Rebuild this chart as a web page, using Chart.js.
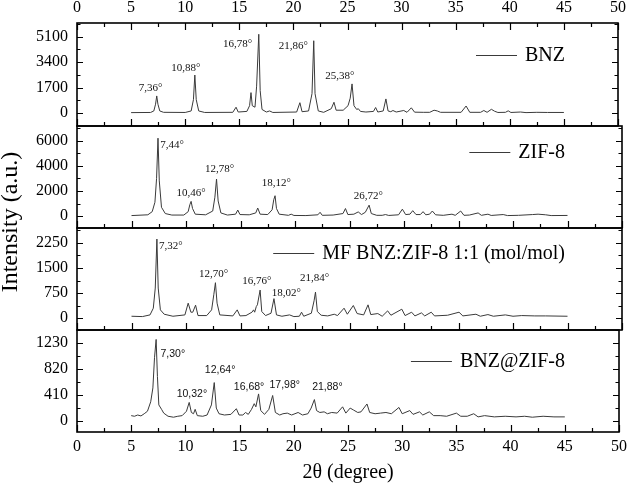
<!DOCTYPE html>
<html>
<head>
<meta charset="utf-8">
<script src="https://cdn.jsdelivr.net/npm/chart.js@4"></script>
<style>
    body { margin: 0; background: #fff; }
    #wrap { position: relative; width: 632px; height: 485px; }
    #wrap canvas { position: absolute; left: 0; top: 0; }
</style>
</head>
<body>
<div id="wrap">
    <canvas id="bnz" width="632" height="485"></canvas>
    <canvas id="zif" width="632" height="485"></canvas>
    <canvas id="mf" width="632" height="485"></canvas>
    <canvas id="load" width="632" height="485"></canvas>
</div>
<script>
// 2theta ticks shared by every panel
const xTicks = [0, 5, 10, 15, 20, 25, 30, 35, 40, 45, 50];

// BNZ pattern [2theta, intensity]
const bnzPattern = [
    [5.0, 40], [6.8, 50], [7.1, 150], [7.26, 600], [7.37, 1150], [7.48, 600], [7.65, 150], [8.0, 60],
    [10.0, 50], [10.55, 150], [10.76, 900], [10.89, 2540], [11.02, 900], [11.25, 150], [11.8, 50],
    [14.4, 60], [14.7, 400], [14.9, 80], [15.7, 120], [15.95, 500], [16.08, 1370], [16.2, 500],
    [16.45, 400], [16.6, 1800], [16.8, 5250], [16.93, 1500], [17.1, 250], [17.5, 80], [17.8, 150],
    [18.1, 50], [20.3, 80], [20.6, 700], [20.8, 100], [21.4, 150], [21.72, 1300], [21.88, 4820],
    [22.0, 1300], [22.3, 150], [22.8, 60], [23.5, 300], [23.75, 730], [23.95, 200], [24.6, 200],
    [25.05, 500], [25.25, 1000], [25.42, 1950], [25.6, 500], [25.85, 250], [26.0, 300], [26.2, 120],
    [26.7, 80], [27.4, 120], [27.6, 380], [27.8, 80], [28.3, 150], [28.55, 950], [28.75, 150],
    [29.0, 100], [29.2, 180], [29.5, 80], [30.2, 180], [30.5, 60], [30.9, 360], [31.2, 70],
    [32.0, 60], [32.6, 60], [33.0, 200], [33.3, 150], [33.6, 60], [35.5, 60], [35.96, 480],
    [36.3, 60], [37.3, 60], [37.6, 180], [37.9, 60], [38.3, 260], [38.6, 130], [38.9, 50],
    [39.6, 60], [39.85, 160], [40.1, 50], [41.0, 80], [41.5, 40], [42.5, 60], [43.5, 50], [45.0, 50]
];
const bnzTicks = [0, 1700, 3400, 5100];
const bnzLabels = ['7,36°', '10,88°', '16,78°', '21,86°', '25,38°'];
const bnzLabelAt = [[6.79, 1660], [10.06, 3030], [14.83, 4580], [20.0, 4470], [24.3, 2500]];

// ZIF-8 pattern
const zifPattern = [
    [5.0, 40], [6.5, 100], [6.9, 350], [7.15, 1100], [7.3, 3000], [7.43, 6200], [7.55, 2800],
    [7.75, 700], [8.1, 200], [8.7, 80], [9.8, 80], [10.2, 350], [10.35, 900], [10.47, 1170],
    [10.6, 600], [10.85, 150], [11.8, 100], [12.45, 400], [12.65, 1500], [12.8, 2950], [12.95, 1200],
    [13.2, 250], [13.8, 80], [14.55, 150], [14.75, 480], [14.95, 120], [15.8, 100], [16.4, 250],
    [16.58, 640], [16.8, 150], [17.5, 120], [17.9, 500], [18.05, 1300], [18.17, 1620], [18.3, 600],
    [18.55, 150], [19.4, 60], [19.65, 150], [19.9, 50], [21.0, 40], [22.1, 100], [22.3, 300],
    [22.5, 60], [23.5, 80], [24.4, 200], [24.63, 600], [24.85, 120], [25.4, 150], [25.8, 330],
    [26.1, 120], [26.45, 300], [26.8, 870], [27.0, 200], [27.5, 60], [28.0, 60], [28.3, 120],
    [28.6, 50], [29.5, 100], [29.85, 550], [30.15, 120], [30.55, 150], [30.8, 430], [31.1, 120],
    [31.5, 120], [31.75, 350], [32.0, 100], [32.35, 150], [32.6, 400], [32.9, 100], [33.6, 60],
    [34.4, 150], [34.7, 60], [35.2, 400], [35.5, 60], [36.0, 80], [36.8, 250], [37.1, 60],
    [37.7, 150], [38.0, 50], [39.1, 120], [39.5, 40], [40.5, 60], [41.8, 120], [42.3, 150],
    [43.0, 100], [43.5, 40], [45.0, 50]
];
const zifTicks = [0, 2000, 4000, 6000];
const zifLabels = ['7,44°', '10,46°', '12,78°', '18,12°', '26,72°'];
const zifLabelAt = [[8.72, 5630], [10.46, 1830], [13.09, 3770], [18.28, 2630], [26.73, 1620]];

// physical mixture pattern
const mfPattern = [
    [5.0, 60], [6.0, 50], [6.7, 100], [7.0, 300], [7.18, 900], [7.33, 2360], [7.45, 900], [7.65, 250],
    [8.0, 120], [8.8, 60], [9.9, 100], [10.2, 450], [10.45, 180], [10.62, 180], [10.88, 390],
    [11.1, 80], [11.9, 80], [12.35, 250], [12.55, 700], [12.7, 1060], [12.85, 450], [13.1, 100],
    [14.3, 70], [14.7, 250], [14.95, 70], [15.5, 80], [16.05, 180], [16.2, 250], [16.3, 180],
    [16.45, 350], [16.55, 400], [16.8, 840], [16.95, 200], [17.3, 80], [17.8, 150], [18.07, 585],
    [18.3, 100], [18.8, 60], [19.5, 100], [19.9, 50], [20.4, 60], [20.6, 180], [20.8, 60],
    [21.5, 150], [21.75, 520], [21.88, 780], [22.05, 200], [22.4, 90], [23.0, 70], [23.6, 120],
    [23.9, 80], [24.5, 300], [24.8, 120], [25.35, 380], [25.7, 140], [26.3, 100], [26.7, 400],
    [26.95, 110], [27.6, 140], [28.0, 60], [28.5, 220], [28.8, 90], [29.8, 270], [30.1, 80],
    [30.7, 180], [31.0, 70], [31.6, 160], [31.9, 70], [32.5, 180], [32.8, 70], [34.0, 90],
    [35.05, 180], [35.4, 70], [36.6, 120], [37.0, 60], [37.7, 110], [38.2, 60], [39.3, 100],
    [40.0, 60], [40.8, 80], [42.0, 70], [43.0, 70], [45.0, 60]
];
const mfTicks = [0, 750, 1500, 2250];
const mfLabels = ['7,32°', '12,70°', '16,76°', '18,02°', '21,84°'];
const mfLabelAt = [[8.61, 2150], [12.54, 1310], [16.49, 1120], [19.2, 760], [21.8, 1190]];

// BNZ@ZIF-8 pattern
const loadPattern = [
    [5.0, 80], [5.3, 70], [5.6, 90], [5.9, 75], [6.2, 110], [6.5, 150], [6.8, 300], [7.0, 520],
    [7.15, 1000], [7.3, 1290], [7.42, 700], [7.55, 250], [7.8, 180], [8.0, 120], [8.4, 70],
    [8.9, 55], [9.3, 70], [9.7, 80], [10.1, 150], [10.35, 290], [10.55, 130], [10.75, 110],
    [10.9, 180], [11.1, 80], [11.6, 70], [12.0, 90], [12.4, 250], [12.66, 605], [12.85, 200],
    [13.1, 110], [13.6, 90], [14.2, 100], [14.7, 190], [14.95, 90], [15.3, 90], [15.55, 130],
    [15.8, 100], [16.1, 180], [16.35, 270], [16.5, 220], [16.75, 425], [16.95, 160], [17.3, 100],
    [17.7, 180], [18.05, 400], [18.3, 130], [18.7, 90], [19.0, 110], [19.4, 120], [19.8, 90],
    [20.4, 130], [20.8, 90], [21.3, 110], [21.6, 200], [21.9, 335], [22.1, 160], [22.4, 130],
    [22.8, 140], [23.1, 110], [23.5, 130], [24.0, 120], [24.5, 220], [24.8, 120], [25.2, 200],
    [25.5, 170], [25.9, 130], [26.2, 140], [26.75, 265], [27.0, 130], [27.5, 110], [28.0, 120],
    [28.5, 130], [29.0, 110], [29.7, 210], [30.0, 110], [30.7, 160], [31.0, 100], [31.6, 140],
    [31.9, 90], [32.5, 140], [32.9, 80], [33.5, 80], [34.1, 70], [35.0, 120], [35.4, 70],
    [36.0, 70], [36.6, 110], [37.0, 60], [37.6, 80], [38.5, 60], [39.5, 70], [40.5, 60],
    [41.3, 70], [42.0, 55], [43.0, 70], [44.0, 60], [45.0, 60]
];
const loadTicks = [0, 410, 820, 1230];
const loadLabels = ['7,30°', '10,32°', '12,64°', '16,68°', '17,98°', '21,88°'];
const loadLabelAt = [[8.84, 1050], [10.6, 415], [13.2, 800], [15.87, 535], [19.16, 560], [23.1, 535]];

const serif = 'Liberation Serif';
const lineColor = '#3a3a3a';

// frame, inward ticks, legend and peak labels
const panelDeco = {
    id: 'panelDeco',
    afterDraw(chart, args, o) {
        const ctx = chart.ctx;
        const a = chart.chartArea;
        const xs = chart.scales.x, ys = chart.scales.y;
        ctx.save();
        ctx.strokeStyle = '#000';
        ctx.lineWidth = 1.2;
        ctx.beginPath();
        xTicks.forEach((v, i) => {
            const px = Math.round(xs.getPixelForValue(v)) + 0.5;
            ctx.moveTo(px, a.bottom); ctx.lineTo(px, a.bottom - 7);
            if (o.top) { ctx.moveTo(px, a.top); ctx.lineTo(px, a.top + 7); }
            if (i < xTicks.length - 1) {
                const pm = Math.round(xs.getPixelForValue(v + 2.5)) + 0.5;
                ctx.moveTo(pm, a.bottom); ctx.lineTo(pm, a.bottom - 4);
                if (o.top) { ctx.moveTo(pm, a.top); ctx.lineTo(pm, a.top + 4); }
            }
        });
        const step = o.yTicks[1] - o.yTicks[0];
        const ymarks = [];
        for (let v = o.yTicks[0] - step; v <= ys.max; v += step / 2) {
            if (v > ys.min && v < ys.max) ymarks.push([v, (Math.round(v / step * 2) % 2 === 0) ? 6 : 3.5]);
        }
        ymarks.forEach(([v, len]) => {
            const py = Math.round(ys.getPixelForValue(v)) + 0.5;
            ctx.moveTo(a.left, py); ctx.lineTo(a.left + len, py);
            ctx.moveTo(a.right, py); ctx.lineTo(a.right - len, py);
        });
        ctx.stroke();
        ctx.lineWidth = 1.6;
        ctx.strokeRect(a.left, a.top, a.right - a.left, a.bottom - a.top);

        // peak labels
        ctx.fillStyle = '#111';
        ctx.font = o.peakFont;
        ctx.textAlign = 'center';
        ctx.textBaseline = 'middle';
        o.labels.forEach((t, i) => {
            ctx.fillText(t, xs.getPixelForValue(o.labelAt[i][0]), ys.getPixelForValue(o.labelAt[i][1]));
        });

        // legend entry
        const label = chart.data.datasets[0].label;
        ctx.font = '20px ' + serif;
        ctx.textAlign = 'right';
        ctx.fillStyle = '#000';
        ctx.fillText(label, o.legendRight, o.legendY + 1);
        const tx = o.legendRight - ctx.measureText(label).width;
        ctx.strokeStyle = lineColor;
        ctx.lineWidth = 1;
        ctx.beginPath();
        ctx.moveTo(tx - 49, o.legendY + 0.5);
        ctx.lineTo(tx - 8, o.legendY + 0.5);
        ctx.stroke();

        if (o.yTitle) {
            ctx.font = '24px ' + serif;
            ctx.fillStyle = '#000';
            ctx.textAlign = 'center';
            ctx.translate(11, 222);
            ctx.rotate(-Math.PI / 2);
            ctx.fillText(o.yTitle, 0, 0);
        }
        ctx.restore();
    }
};

function xAxis(position, extra) {
    return Object.assign({
        type: 'linear',
        position: position,
        min: 0,
        max: 50,
        afterBuildTicks: s => { s.ticks = xTicks.map(v => ({ value: v })); },
        grid: { display: false, drawTicks: false },
        border: { display: false },
        ticks: {
            font: { family: serif, size: 16 },
            color: '#000',
            autoSkip: false,
            maxRotation: 0
        }
    }, extra);
}

function makePanel(id, p) {
    const scales = {
        x: p.bottom ? xAxis('bottom', {
            afterFit: s => { s.height = 53; },
            ticks: { font: { family: serif, size: 16 }, color: '#000', autoSkip: false, maxRotation: 0, padding: 5 },
            title: { display: true, text: '2θ (degree)', font: { family: serif, size: 20 }, color: '#000', padding: 0 }
        }) : { type: 'linear', min: 0, max: 50, display: false },
        y: {
            min: p.yMin,
            max: p.yMax,
            afterBuildTicks: s => { s.ticks = p.yTicks.map(v => ({ value: v })); },
            afterFit: s => { s.width = 77; },
            grid: { display: false, drawTicks: false },
            border: { display: false },
            ticks: {
                font: { family: serif, size: 16 },
                color: '#000',
                padding: 9,
                callback: v => String(v)
            }
        }
    };
    if (p.top) {
        scales.x2 = xAxis('top', {
            afterFit: s => { s.height = 23; },
            ticks: { font: { family: serif, size: 16 }, color: '#000', autoSkip: false, maxRotation: 0, padding: 6 }
        });
    }
    return new Chart(document.getElementById(id).getContext('2d'), {
        type: 'line',
        data: {
            datasets: [{
                label: p.label,
                data: p.pattern.map(d => ({ x: d[0], y: d[1] })),
                borderColor: lineColor,
                borderWidth: 1,
                pointRadius: 0,
                tension: 0,
                fill: false
            }]
        },
        options: {
            responsive: false,
            animation: false,
            layout: { padding: { left: 0, right: 10, top: p.padTop, bottom: p.padBottom } },
            scales: scales,
            plugins: {
                legend: { display: false },
                tooltip: { enabled: false },
                panelDeco: {
                    top: !!p.top,
                    yTicks: p.yTicks,
                    labels: p.labels,
                    labelAt: p.labelAt,
                    peakFont: p.peakFont,
                    legendRight: 565,
                    legendY: p.legendY,
                    yTitle: p.yTitle
                }
            }
        },
        plugins: [panelDeco]
    });
}

makePanel('bnz', {
    label: 'BNZ', pattern: bnzPattern, yMin: -850, yMax: 6000, yTicks: bnzTicks,
    labels: bnzLabels, labelAt: bnzLabelAt, peakFont: '11px ' + serif,
    legendY: 55, top: true, padTop: 0, padBottom: 485 - 126
});
makePanel('zif', {
    label: 'ZIF-8', pattern: zifPattern, yMin: -950, yMax: 7170, yTicks: zifTicks,
    labels: zifLabels, labelAt: zifLabelAt, peakFont: '11px ' + serif,
    legendY: 152, padTop: 126, padBottom: 485 - 228
});
makePanel('mf', {
    label: 'MF BNZ:ZIF-8 1:1 (mol/mol)', pattern: mfPattern, yMin: -350, yMax: 2690, yTicks: mfTicks,
    labels: mfLabels, labelAt: mfLabelAt, peakFont: '11px ' + serif,
    legendY: 253, padTop: 228, padBottom: 485 - 330
});
makePanel('load', {
    label: 'BNZ@ZIF-8', pattern: loadPattern, yMin: -180, yMax: 1440, yTicks: loadTicks,
    labels: loadLabels, labelAt: loadLabelAt, peakFont: '10.5px Liberation Sans',
    legendY: 361, bottom: true, padTop: 330, padBottom: 0, yTitle: 'Intensity (a.u.)'
});
</script>
</body>
</html>
